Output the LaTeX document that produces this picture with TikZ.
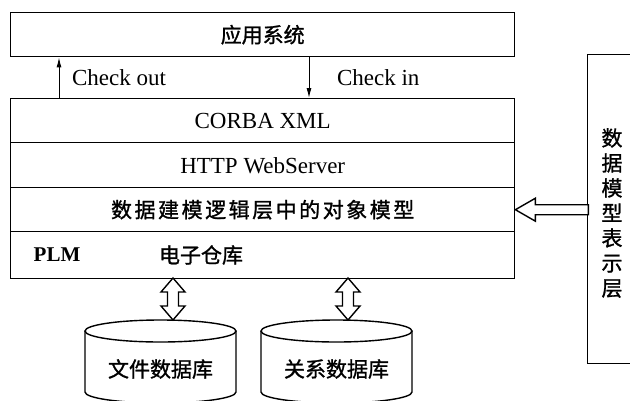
\documentclass[tikz,border=0pt]{standalone}
\usepackage{fontspec}
\setmainfont{Liberation Serif}
\newfontfamily\cjk[FakeBold=1.2]{Noto Sans CJK SC}
\usetikzlibrary{arrows.meta}
\begin{document}
\begin{tikzpicture}[x=1pt,y=-1pt, line width=1.4pt,
  box/.style={draw, rectangle, inner sep=0pt, anchor=north west, minimum width=504pt},
  lat/.style={font=\fontsize{23}{23}\selectfont},
  zh/.style={font=\cjk\fontsize{21}{21}\selectfont},
  thinarrow/.style={line width=1pt, -{Latex[length=10pt,width=5pt]}},
  hollow/.style={draw, line width=1.4pt, fill=white, line join=miter}]
\useasboundingbox[fill=white] (0,0) rectangle (630,400);
% top box
\node[box, minimum height=44pt] (app) at (10,12) {};
\node[zh] (apptxt) at (app.center) {应用系统};
% main stack
\node[box, minimum height=44pt] (r1) at (10,98) {};
\node[box, minimum height=45pt] (r2) at (10,142) {};
\node[box, minimum height=44pt] (r3) at (10,187) {};
\node[box, minimum height=47pt] (r4) at (10,231) {};
\node[lat] (t1) at (r1.center) {CORBA XML};
\node[lat] (t2) at (r2.center) {HTTP WebServer};
\node[zh] (t3) at (r3.center) {\addfontfeature{LetterSpace=12}数据建模逻辑层中的对象模型};
\node[lat, font=\bfseries\fontsize{21}{21}\selectfont] (plm) at (57,255) {PLM};
\node[zh] (store) at (201,255) {电子仓库};
% check out / check in
\draw[thinarrow] ([xshift=49pt]r1.north west) -- ([xshift=49pt]app.south west);
\draw[thinarrow] ([xshift=299pt]app.south west) -- ([xshift=299pt]r1.north west);
\node[lat, anchor=west] (co) at (68,78) {Check out};
\node[lat, anchor=west] (ci) at (333,78) {Check in};
% right box
\node[draw, rectangle, inner sep=0pt, anchor=north west, minimum width=60pt, minimum height=309pt] (side) at (587,54) {};
\node[zh, align=center, font=\cjk\fontsize{21}{25}\selectfont] (sidetxt) at (612,213) {数\\据\\模\\型\\表\\示\\层};
% hollow arrow from side box to object-model row
\draw[hollow] (r3.east) -- ++(20,-11.5) -- ++(0,6.5) -- ++(53,0) -- ++(0,10) -- ++(-53,0) -- ++(0,6.5) -- cycle;
% cylinders
\coordinate (c1) at (160.5,331);
\coordinate (c2) at (336.5,331);
\foreach \c in {c1,c2}{
  \draw (\c) ellipse [x radius=75.5pt, y radius=11pt];
  \draw ([xshift=-75.5pt]\c) -- ++(0,61) arc [start angle=180, end angle=360, x radius=75.5pt, y radius=11pt] -- ++(0,-61);
}
\node[zh] (db1) at (160.5,369) {文件数据库};
\node[zh] (db2) at (336.5,369) {关系数据库};
% double hollow arrows
\coordinate (a1) at (173,278);
\coordinate (a2) at (348,278);
\foreach \a in {a1,a2}{
  \draw[hollow] (\a) -- ++(12,14) -- ++(-6.5,0) -- ++(0,14) -- ++(6.5,0) -- ++(-12,14) -- ++(-12,-14) -- ++(6.5,0) -- ++(0,-14) -- ++(-6.5,0) -- cycle;
}
\end{tikzpicture}
\end{document}
